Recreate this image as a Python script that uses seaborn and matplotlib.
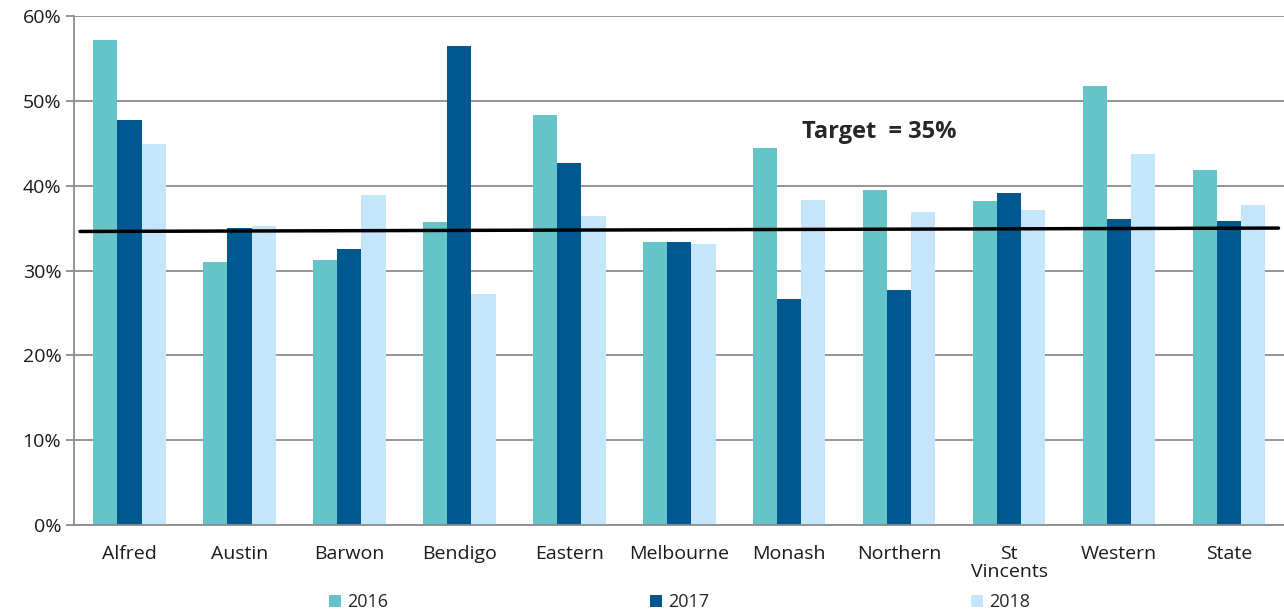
import pandas as pd
import seaborn as sns
import matplotlib.pyplot as plt
from matplotlib.ticker import MultipleLocator, FixedLocator, PercentFormatter


# valeurs (%)
services = ["Alfred", "Austin", "Barwon", "Bendigo", "Eastern", "Melbourne",
            "Monash", "Northern", "St\nVincents", "Western", "State"]
v2016 = [57.2, 31.0, 31.2, 35.7, 48.3, 33.4, 44.4, 39.5, 38.2, 51.8, 41.8]
v2017 = [47.7, 35.0, 32.5, 56.5, 42.7, 33.4, 26.6, 27.7, 39.1, 36.1, 35.8]
v2018 = [44.9, 35.2, 38.9, 27.2, 36.4, 33.1, 38.3, 36.9, 37.1, 43.7, 37.7]
years = ["2016", "2017", "2018"]
target_x = [-0.45, 10.45]
target_y = [34.6, 35.0]

df = pd.DataFrame({"Service": services, "2016": v2016, "2017": v2017, "2018": v2018})
df_long = df.melt(id_vars="Service", var_name="Year", value_name="Pct")

sns.set_style("white")
plt.rcParams["font.family"] = ["Open Sans", "DejaVu Sans"]

fig, ax = plt.subplots(figsize=(12.84, 6.12), dpi=100)
fig.subplots_adjust(left=0.058, right=1.0, top=0.974, bottom=0.142)

palette = ["#66C3C8", "#005891", "#C5E5FB"]
sns.barplot(data=df_long, x="Service", y="Pct", hue="Year", hue_order=years,
            palette=palette, width=0.66, saturation=1, linewidth=0, ax=ax, zorder=2)

ax.plot(target_x, target_y, color="black", lw=2.5, zorder=3)
ax.text(6.82, 46.3, "Target  = 35%", fontsize=17, fontweight="bold",
        ha="center", va="center")

ax.set_xlim(-0.5, 10.5)
ax.set_ylim(0, 60)
ax.yaxis.set_major_locator(MultipleLocator(10))
ax.yaxis.set_major_formatter(PercentFormatter(decimals=0))
ax.grid(axis="y", color="#8c8c8c", lw=1.3, zorder=0)

for side in ["top", "right"]:
    ax.spines[side].set_visible(False)
for side in ["left", "bottom"]:
    ax.spines[side].set_color("#8c8c8c")
    ax.spines[side].set_linewidth(1.3)

ax.xaxis.set_minor_locator(FixedLocator([i - 0.5 for i in range(12)]))
ax.tick_params(axis="x", which="major", length=0, pad=14, labelsize=14, colors="#1a1a1a")
ax.tick_params(axis="x", which="minor", length=8, color="#8c8c8c", width=1.3)
ax.tick_params(axis="y", length=6, color="#8c8c8c", width=1.3, labelsize=14,
               colors="#1a1a1a", left=True)
for lbl in ax.get_xticklabels():
    lbl.set_linespacing(1.05)
ax.set_xlabel("")
ax.set_ylabel("")

ax.legend(loc="upper center", bbox_to_anchor=(0.5, -0.12), ncol=3, frameon=False,
          fontsize=13, columnspacing=14.5, handlelength=0.7, handleheight=0.7,
          handletextpad=0.3, borderaxespad=0)

plt.savefig("out.png", dpi=100)
